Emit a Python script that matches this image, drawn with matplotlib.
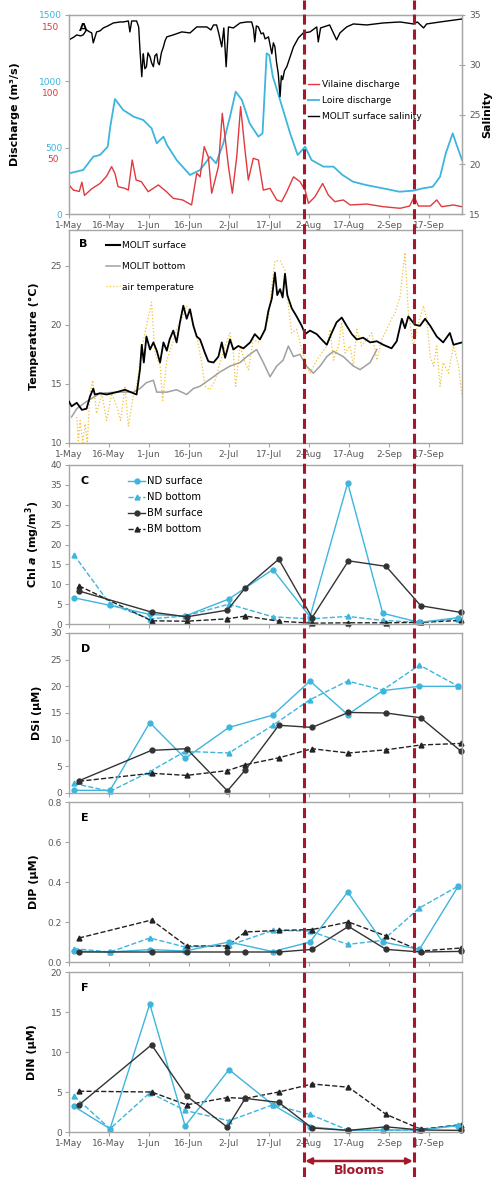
import numpy as np
import matplotlib
matplotlib.use("Agg")
import matplotlib.pyplot as plt
import matplotlib.transforms as mtransforms
from matplotlib.lines import Line2D

# x axis: days since 1 May
tick_days = [0, 15.5, 31, 46.5, 62, 77.5, 93, 108.5, 124, 139.5]
tick_labels = ['1-May', '16-May', '1-Jun', '16-Jun', '2-Jul', '17-Jul',
               '2-Aug', '17-Aug', '2-Sep', '17-Sep']
bloom_days = [91, 133.8]

# panel A
loire_days = [0, 5.5, 9.4, 12, 15, 16, 17.8, 21, 25, 28.8, 32, 34, 36.6, 38, 41.7, 46.9,
              50.8, 54.7, 57, 59.8, 62.4, 64.6, 67, 70, 73.4, 75, 76.6, 77.6, 79, 81.8,
              85.7, 88.6, 91.5, 94, 98.6, 102.5, 106, 110, 115, 121.8, 128, 133.5, 137,
              141, 143.8, 146, 148.7, 150, 152.3]
loire_q = [306, 332, 432, 445, 507, 658, 867, 784, 734, 708, 646, 533, 583, 520, 407, 294,
           332, 432, 382, 533, 734, 922, 859, 683, 583, 608, 1211, 1198, 1035, 859,
           608, 445, 507, 407, 357, 357, 294, 244, 219, 193, 168, 176, 193,
           206, 281, 457, 608, 533, 407]

vil_days = [0, 1.7, 4, 5, 6, 8.8, 12, 14.6, 16.5, 17.8, 19, 21.7, 23, 24.5, 26, 28, 30.7,
            34.6, 37.8, 40.4, 44, 47.5, 49.5, 50.8, 52.4, 54, 55.3, 57.9, 59.4, 61.8,
            63.3, 65, 66.5, 68.2, 69.5, 71.4, 73.4, 75.3, 77.9, 80.5, 82.4, 84.4, 87,
            89.5, 91.5, 92.8, 95.3, 98.3, 100.5, 103, 106.3, 109, 115.4, 121.8, 128.3,
            132, 133.8, 135.4, 140, 142.5, 144.4, 149, 152.3]
vil_q = [21.9, 18, 17, 24, 14, 19, 23, 28.6, 35.7, 30.6, 20.6, 19.3, 18, 40.7, 25.6, 24.4,
         16.8, 21.9, 16.8, 11.8, 10.6, 6.8, 30.7, 28, 50.8, 43, 15.6, 35.7, 75.9, 35.7,
         15.6, 43, 80.9, 48.2, 25.6, 42, 40.7, 18, 19.3, 10.6, 9.3, 16.8, 28,
         24.4, 18, 8, 13, 23, 14.3, 9.3, 10.6, 6.8, 7.5, 5.5, 4.3,
         6, 13, 6, 6, 10.6, 5.5, 6.8, 5.5]

sal_days = [0, 2, 3, 4.5, 5.5, 6.8, 8, 8.8, 9.4, 10.7, 12, 13.3, 15, 17.2, 19.8, 21, 23,
            23.6, 24.3, 26.2, 27, 27.5, 28.2, 28.6, 28.8, 29.4, 30, 30.6, 31.4, 32, 32.7,
            33.3, 34, 34.5, 35, 35.8, 36.6, 37.2, 37.9, 40.4, 43.7, 46.9, 49.5, 53.4, 55,
            56, 57.2, 58, 59.2, 60, 60.9, 61.8, 63.7, 66.3, 68.9, 70.8, 71.5, 72, 72.6,
            73.4, 74.5, 75.3, 76, 77.3, 78, 78.6, 79.2, 79.8, 80.4, 81.1, 81.8, 82.3,
            82.8, 83.5, 84.4, 85.7, 87, 88.9, 90.8, 93.4, 96, 96.6, 97.5, 101, 103.7,
            105, 107.6, 110.2, 115.4, 121.8, 128.3, 133.5, 135, 137.4, 138.6, 143.8, 152.3]
sal_vals = [32.5, 32.8, 33, 32.9, 33, 33.5, 33.3, 33.2, 32.2, 33.3, 33.4, 33.7, 33.9, 34.2,
            34.3, 34.3, 34.4, 33.3, 34.4, 34.4, 33.8, 31.5, 28.8, 30.5, 31.1, 29.6, 29.8,
            31.2, 30.8, 30.2, 29.8, 30.9, 31.1, 30.2, 30, 31.2, 31.8, 32.4, 32.8, 33, 33.3,
            33.2, 33.8, 33.8, 33.5, 34, 34, 33.2, 31.8, 33.7, 29.8, 33.8, 33.7, 34.2, 34.3,
            34.3, 33.6, 32.3, 33.9, 33.8, 33.1, 33.2, 32.6, 32.8, 31.9, 31.1, 32.2, 31.8,
            30.3, 29.1, 26.8, 28.9, 28.5, 29.4, 29.8, 30.8, 31.8, 32.7, 33.2, 33.3, 33.8,
            32.3, 33.7, 34, 32.5, 33.2, 33.8, 34.1, 34, 34.2, 34.3, 34.1, 34.3, 33.7,
            34.1, 34.3, 34.6]

# panel B
ts_days = [0, 1, 3, 5, 6.8, 8.1, 9.4, 10, 12, 14.6, 18.5, 21.7, 25, 26.2, 27.5, 28.2, 29,
           30, 31.4, 32.7, 34, 35.3, 36.6, 37.9, 39, 40.4, 41.7, 43, 44.3, 45.6, 46.9,
           48.2, 49.5, 50.8, 52.7, 54, 56, 57.9, 59.2, 60.5, 62.4, 63.7, 65.6, 67.6, 70.2,
           72, 74, 76, 77.3, 78.6, 79.8, 80.7, 81.8, 82.8, 83.7, 84.6, 86.3, 88.2, 90.2,
           91.5, 93.4, 96, 97.9, 99.9, 101.8, 103.7, 105.7, 107.6, 109.6, 111.5, 114,
           116.7, 119.3, 121.8, 125, 127, 129, 130.2, 131.5, 134, 136, 138, 140, 142.5,
           145, 147.6, 149, 152.3]
ts_vals = [13.5, 13.1, 13.4, 12.8, 12.9, 13.9, 14.6, 14.1, 14.2, 14.1, 14.3, 14.5, 14.2,
           14.1, 16.2, 18.3, 16.8, 19, 17.9, 18.5, 17.8, 16.8, 18.5, 17.8, 18.75, 19.5,
           18.5, 20.2, 21.6, 20.5, 21.3, 19.9, 19, 18.75, 17.6, 16.9, 16.8, 17.3, 18.5,
           17.2, 18.75, 17.9, 18.2, 18, 18.5, 19.2, 18.75, 19.6, 21.2, 22.2, 24.4, 22.5,
           23, 22.3, 24.3, 22.5, 21.4, 20.7, 19.9, 19.2, 19.5, 19.2, 18.75, 18.3, 19.3,
           20.2, 20.6, 19.9, 19.2, 18.75, 18.9, 18.5, 18.6, 18.3, 18, 18.6, 20.5, 19.7,
           20.7, 20, 19.9, 20.5, 19.9, 19, 18.5, 19.3, 18.3, 18.5]

tb_days = [1, 3, 6.8, 12, 18.5, 25, 27.5, 30, 32.7, 34, 37.9, 41.7, 45.6, 48.2, 50.8, 53.4,
           56, 58.5, 62.4, 66.3, 68.9, 72.7, 75.3, 77.9, 80.5, 83, 85, 87, 89.5, 92, 94.7,
           97.3, 99.9, 102.5, 106.3, 110.2, 112.8, 116.7, 119.3]
tb_vals = [12.2, 12.9, 13.5, 14.2, 14.3, 14.3, 14.6, 15.1, 15.3, 14.3, 14.3, 14.5, 14.1,
           14.6, 14.8, 15.2, 15.6, 16, 16.5, 16.8, 17.3, 17.9, 16.8, 15.6, 16.5, 17, 18.2,
           17.3, 17.5, 16.5, 15.9, 16.5, 17.3, 17.75, 17.3, 16.5, 16.2, 16.8, 17.9]

ta_days = [3, 3.6, 4.3, 5.3, 6.2, 7.1, 8.1, 9.2, 10.7, 12.7, 14.6, 16.5, 18.5, 20, 21.7,
           23, 25, 26.2, 28.2, 30.1, 32, 33.3, 35.3, 36.3, 37.9, 39.8, 41.7, 43.7, 45.6,
           47.5, 49.5, 51.4, 52.7, 54.6, 56.6, 58.5, 60.5, 62.4, 63.7, 64.6, 66.3, 68.2,
           69.5, 71.4, 73.4, 75.3, 77.3, 78.6, 79.8, 81.8, 83.7, 85, 86.3, 88.2, 90.2, 92,
           93.4, 96, 97.9, 99.9, 101.2, 102.5, 104.4, 105.7, 107, 108.9, 110.2, 111.5,
           113.4, 115.4, 117.3, 119.3, 121.2, 123.1, 125, 126.4, 128.3, 130.2, 131.5,
           133.5, 134.8, 137.4, 138.6, 140, 141.3, 142.5, 143.8, 145, 147, 149, 151, 152.3]
ta_vals = [12.2, 10.2, 11.9, 10, 11.6, 10, 14.2, 15.3, 12.5, 14.2, 11.9, 14.2, 13.1, 11.9,
           14.8, 11.4, 14.2, 14.8, 17.9, 20, 21.9, 17.6, 16.5, 13.6, 17, 18.2, 19.6, 20.5,
           21.6, 20.7, 19, 16.8, 14.8, 14.5, 15.3, 16.8, 18.2, 19.3, 17.6, 14.8, 18.2,
           16.8, 16.2, 18.75, 18.5, 19.3, 20.5, 23.3, 25.4, 25.4, 24.6, 21.6, 19.3, 19.6,
           17.9, 16.5, 15.9, 17, 17.6, 18.2, 19.6, 17, 18.2, 20.2, 17.6, 18.2, 16.5, 19.6,
           18.2, 18.75, 19.3, 17, 18.75, 19.6, 20.5, 21, 22.4, 26.1, 21, 18.2, 19.6, 21.6,
           20.5, 17.3, 16.5, 18.2, 14.8, 16.8, 15.9, 18.2, 16.5, 13.9]

# panels C-F: sampling dates
nd_days = [1.9, 15.9, 31.3, 45, 62, 79, 93.4, 108, 121.6, 135.8, 150.9]
bm_days = [3.9, 32, 45.6, 61.4, 68.3, 81.3, 94.2, 108.3, 122.9, 136.3, 152.0]

nd_s_chl = [6.6, 4.7, 2.4, 2.0, 6.3, 13.7, 1.8, 35.5, 2.7, 0.4, 1.6]
nd_b_chl = [17.4, 5.0, 1.3, 2.0, 5.0, 1.8, 1.3, 1.9, 0.9, 0.4, 1.3]
bm_s_chl = [8.3, 3.0, 1.8, 3.5, 9.1, 16.3, 1.6, 15.9, 14.5, 4.6, 2.9]
bm_b_chl = [9.6, 0.8, 0.7, 1.3, 2.0, 0.7, 0.2, 0.3, 0.3, 0.4, 0.9]

nd_s_dsi = [0.5, 0.5, 13.2, 6.5, 12.3, 14.6, 21, 14.7, 19.2, 20, 20]
nd_b_dsi = [1.8, 0.3, 4.0, 7.8, 7.5, 12.7, 17.5, 21, 19.3, 24, 20]
bm_s_dsi = [2.3, 8.0, 8.3, 0.4, 4.3, 12.7, 12.3, 15.1, 15.0, 14.1, 7.8]
bm_b_dsi = [2.2, 3.7, 3.3, 4.2, 5.3, 6.6, 8.3, 7.5, 8.1, 9.0, 9.3]

nd_s_dip = [0.055, 0.05, 0.062, 0.055, 0.1, 0.052, 0.1, 0.35, 0.1, 0.063, 0.38]
nd_b_dip = [0.067, 0.05, 0.12, 0.075, 0.083, 0.158, 0.155, 0.088, 0.108, 0.27, 0.38]
bm_s_dip = [0.05, 0.05, 0.05, 0.05, 0.05, 0.05, 0.063, 0.178, 0.063, 0.05, 0.053]
bm_b_dip = [0.12, 0.21, 0.08, 0.08, 0.15, 0.158, 0.162, 0.2, 0.13, 0.055, 0.07]

nd_s_din = [3.2, 0.4, 16, 0.75, 7.8, 3.4, 0.65, 0.2, 0.25, 0.25, 0.8]
nd_b_din = [4.5, 0.4, 4.9, 2.7, 1.4, 3.4, 2.2, 0.25, 0.2, 0.25, 0.9]
bm_s_din = [3.4, 10.9, 4.5, 0.6, 4.2, 3.7, 0.5, 0.2, 0.65, 0.25, 0.2]
bm_b_din = [5.1, 5.0, 3.4, 4.3, 4.2, 5.0, 6.0, 5.6, 2.2, 0.35, 0.9]

BLUE = '#3db5dd'
RED = '#e0393e'
DKRED = '#a3192b'
GREY = '#a6a6a6'
TXT = '#595959'
XMAX = 152.3

plt.rcParams['font.family'] = ['DejaVu Sans']

fig = plt.figure(figsize=(4.94, 11.77), dpi=100)
W, H = 494.0, 1177.0


def make_ax(top, bottom):
    return fig.add_axes([69 / W, 1 - bottom / H, 393 / W, (bottom - top) / H])


def style(ax, show_x):
    for s in ax.spines.values():
        s.set_color(GREY)
        s.set_linewidth(1)
    ax.set_xlim(0, XMAX)
    ax.set_xticks(tick_days)
    if show_x:
        ax.set_xticklabels(tick_labels)
    else:
        ax.set_xticklabels([])
    ax.tick_params(axis='both', direction='out', length=3, width=0.8, colors=GREY,
                   labelcolor=TXT, labelsize=6.5, pad=2)


# ---- A
axA = make_ax(15, 214)
style(axA, True)
axA.plot(loire_days, loire_q, color=BLUE, lw=1.3)
axA.set_ylim(0, 1500)
axA.set_yticks([0, 500, 1000, 1500])
axA.tick_params(axis='y', labelcolor=BLUE)
axA.set_ylabel('Discharge (m³/s)', fontsize=8, fontweight='bold', labelpad=14)

axV = axA.twinx()
axV.plot(vil_days, vil_q, color=RED, lw=1)
axV.set_ylim(0, 150)
axV.set_yticks([])
for s in axV.spines.values():
    s.set_visible(False)
lab_tr = mtransforms.offset_copy(
    mtransforms.blended_transform_factory(axV.transAxes, axV.transData),
    fig=fig, x=-10, y=-12, units='dots')
for v in [50, 100, 150]:
    axV.text(0, v, str(v), transform=lab_tr, ha='right', va='center',
             fontsize=6.5, color=RED)

axS = axA.twinx()
axS.plot(sal_days, sal_vals, color='black', lw=1)
axS.set_ylim(15, 35)
axS.set_yticks([15, 20, 25, 30, 35])
for s in axS.spines.values():
    s.set_color(GREY)
axS.tick_params(axis='y', direction='inout', length=4, width=0.8, colors=GREY,
                labelcolor=TXT, labelsize=6.5, pad=3)
axS.set_ylabel('Salinity', fontsize=8, fontweight='bold', labelpad=1)
axS.set_xlim(0, XMAX)
axA.text(0.025, 0.96, 'A', transform=axA.transAxes, fontsize=8, fontweight='bold',
         va='top')
handles = [Line2D([], [], color=RED, lw=1), Line2D([], [], color=BLUE, lw=1.3),
           Line2D([], [], color='black', lw=1)]
axS.legend(handles, ['Vilaine discharge', 'Loire discharge', 'MOLIT surface salinity'],
           loc='upper left', bbox_to_anchor=(0.6, 0.69), frameon=False, fontsize=6.5,
           handlelength=1.2, handletextpad=0.3, labelspacing=0.75, borderaxespad=0)

# ---- B
axB = make_ax(230, 443)
style(axB, True)
axB.plot(ta_days, ta_vals, color='#f2c230', lw=0.9, ls=':', zorder=2)
axB.plot(tb_days, tb_vals, color='#a0a0a0', lw=1.1, zorder=3)
axB.plot(ts_days, ts_vals, color='black', lw=1.3, zorder=4)
axB.set_ylim(10, 28)
axB.set_yticks([10, 15, 20, 25])
axB.set_ylabel('Temperature (°C)', fontsize=8, fontweight='bold', labelpad=8)
axB.text(0.025, 0.96, 'B', transform=axB.transAxes, fontsize=8, fontweight='bold',
         va='top')
hB = [Line2D([], [], color='black', lw=1.5), Line2D([], [], color='#a0a0a0', lw=1.1),
      Line2D([], [], color='#f2c230', lw=0.9, ls=':')]
axB.legend(hB, ['MOLIT surface', 'MOLIT bottom', 'air temperature'], loc='upper left',
           bbox_to_anchor=(0.085, 0.965), frameon=False, fontsize=6.5, handlelength=1.6,
           handletextpad=0.2, labelspacing=1.3, borderaxespad=0)


# ---- C-F
def chem(ax, nds, ndb, bms, bmb):
    kw = dict(lw=1, ms=3.5, clip_on=False)
    ax.plot(nd_days, ndb, color=BLUE, ls='--', marker='^', **kw)
    ax.plot(bm_days, bmb, color='#222222', ls='--', marker='^', **kw)
    ax.plot(nd_days, nds, color=BLUE, ls='-', marker='o', **kw)
    ax.plot(bm_days, bms, color='#333333', ls='-', marker='o', **kw)


axC = make_ax(465, 624)
style(axC, False)
chem(axC, nd_s_chl, nd_b_chl, bm_s_chl, bm_b_chl)
axC.set_ylim(0, 40)
axC.set_yticks(range(0, 41, 5))
axC.set_ylabel(r'Chl $\mathbfit{a}$ (mg/m$^\mathbf{3}$)', fontsize=8, fontweight='bold',
               labelpad=6)
hC = [Line2D([], [], color=BLUE, ls='-', marker='o', ms=3.5, lw=1),
      Line2D([], [], color=BLUE, ls='--', marker='^', ms=3.5, lw=1),
      Line2D([], [], color='#333333', ls='-', marker='o', ms=3.5, lw=1),
      Line2D([], [], color='#222222', ls='--', marker='^', ms=3.5, lw=1)]
axC.legend(hC, ['ND surface', 'ND bottom', 'BM surface', 'BM bottom'], loc='upper left',
           bbox_to_anchor=(0.14, 0.955), frameon=False, fontsize=7.2, handlelength=1.7,
           handletextpad=0.2, labelspacing=0.6, borderaxespad=0)

axD = make_ax(633, 793)
style(axD, False)
chem(axD, nd_s_dsi, nd_b_dsi, bm_s_dsi, bm_b_dsi)
axD.set_ylim(0, 30)
axD.set_yticks(range(0, 31, 5))
axD.set_ylabel('DSi (µM)', fontsize=8, fontweight='bold', labelpad=6)

axE = make_ax(802, 962)
style(axE, False)
chem(axE, nd_s_dip, nd_b_dip, bm_s_dip, bm_b_dip)
axE.set_ylim(0, 0.8)
axE.set_yticks([0, 0.2, 0.4, 0.6, 0.8])
axE.set_yticklabels(['0.0', '0.2', '0.4', '0.6', '0.8'])
axE.set_ylabel('DIP (µM)', fontsize=8, fontweight='bold', labelpad=6)

axF = make_ax(972, 1132)
style(axF, True)
chem(axF, nd_s_din, nd_b_din, bm_s_din, bm_b_din)
axF.set_ylim(0, 20)
axF.set_yticks(range(0, 21, 5))
axF.set_ylabel('DIN (µM)', fontsize=8, fontweight='bold', labelpad=10)

for ax, letter in [(axC, 'C'), (axD, 'D'), (axE, 'E'), (axF, 'F')]:
    ax.text(0.03, 0.93, letter, transform=ax.transAxes, fontsize=8, fontweight='bold',
            va='top')

# bloom period markers across the whole figure
trF = mtransforms.blended_transform_factory(axF.transData, fig.transFigure)
for d in bloom_days:
    fig.add_artist(Line2D([d, d], [0, 1], transform=trF, color=DKRED, lw=2.2,
                          ls=(0, (3.3, 1.6)), zorder=10))
axF.annotate('', xy=(bloom_days[1], 1 - 1161 / H), xycoords=trF,
             xytext=(bloom_days[0], 1 - 1161 / H), textcoords=trF,
             arrowprops=dict(arrowstyle='<|-|>', color=DKRED, lw=1.8, mutation_scale=9,
                             shrinkA=1, shrinkB=1), annotation_clip=False)
axF.text(np.mean(bloom_days), 1 - 1171 / H, 'Blooms', transform=trF, ha='center',
         va='center', fontsize=9, fontweight='bold', color=DKRED)

fig.savefig('out.png', dpi=100)
